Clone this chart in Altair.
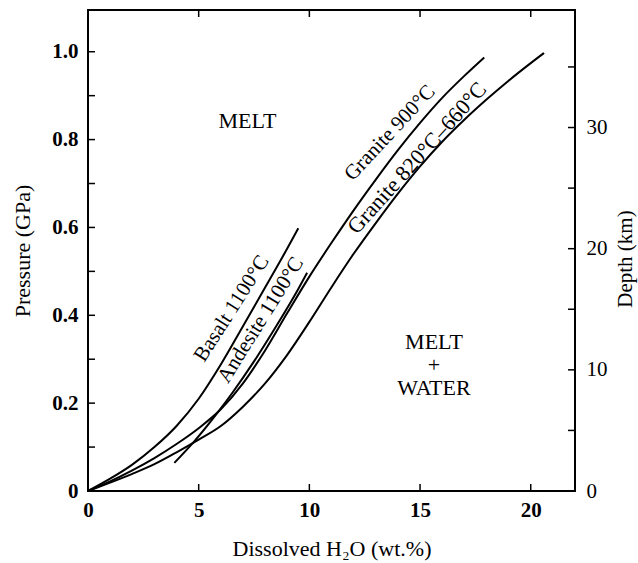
import altair as alt
import pandas as pd

# Solubility curves: dissolved H2O (wt.%) against pressure (GPa)
basalt_h2o = [0, 1, 2, 3, 4, 5, 6, 7, 8, 9, 9.5]
basalt_p = [0, 0.028, 0.06, 0.1, 0.148, 0.21, 0.288, 0.375, 0.463, 0.552, 0.598]

andesite_h2o = [3.9, 4.8, 5.8, 6.5, 7.5, 8.5, 9.5, 9.9]
andesite_p = [0.064, 0.113, 0.175, 0.222, 0.295, 0.375, 0.46, 0.497]

granite900_h2o = [0, 1, 2, 3, 4, 5, 6, 7, 8, 9, 10, 11, 12, 13, 14, 15, 16, 17, 17.9]
granite900_p = [0, 0.022, 0.047, 0.075, 0.107, 0.143, 0.186, 0.245, 0.32, 0.405, 0.488,
                0.565, 0.639, 0.709, 0.776, 0.838, 0.895, 0.945, 0.987]

granite820_h2o = [0, 1, 2, 3, 4, 5, 6, 7, 8, 9, 10, 11, 12, 13, 14, 15, 16, 17, 18, 19, 20, 20.6]
granite820_p = [0, 0.019, 0.039, 0.061, 0.088, 0.117, 0.148, 0.192, 0.245, 0.31, 0.385,
                0.464, 0.54, 0.61, 0.677, 0.739, 0.795, 0.845, 0.891, 0.934, 0.974, 0.997]

# Axis tick values
x_ticks = [0, 5, 10, 15, 20]
p_ticks = [0, 0.2, 0.4, 0.6, 0.8, 1.0]
p_minor = [0, 0.1, 0.2, 0.3, 0.4, 0.5, 0.6, 0.7, 0.8, 0.9, 1.0]
depth_ticks = [0, 10, 20, 30]
depth_minor = [0, 5, 10, 15, 20, 25, 30, 35]

W, H = 487, 481
X_DOM = [0, 22]
P_DOM = [0, 1.095]
D_DOM = [0, 39.7]
FONT = "Liberation Serif"

rows = []
for name, xs_, ps_ in [
    ("Basalt", basalt_h2o, basalt_p),
    ("Andesite", andesite_h2o, andesite_p),
    ("Granite 900", granite900_h2o, granite900_p),
    ("Granite 820", granite820_h2o, granite820_p),
]:
    for i, (x, p) in enumerate(zip(xs_, ps_)):
        rows.append({"rock": name, "h2o": x, "p": p, "order": i})
curves_df = pd.DataFrame(rows)

xs = alt.Scale(domain=X_DOM, nice=False, zero=False)
ps = alt.Scale(domain=P_DOM, nice=False, zero=False)
ds = alt.Scale(domain=D_DOM, nice=False, zero=False)

x_axis = alt.Axis(
    values=x_ticks, ticks=False, domain=False, grid=False, labelFlush=False,
    labelFont=FONT, labelFontSize=21, labelFontWeight="bold", labelColor="black",
    labelPadding=8, labelBaseline="top",
    title="Dissolved H₂O (wt.%)", titleFont=FONT, titleFontSize=22,
    titleFontWeight="normal", titleColor="black", titleY=57, titleBaseline="middle",
)
p_axis = alt.Axis(
    values=p_ticks, ticks=False, domain=False, grid=False, labelFlush=False,
    labelExpr="datum.value == 0 ? '0' : format(datum.value, '.1f')",
    labelFont=FONT, labelFontSize=21, labelFontWeight="bold", labelColor="black",
    labelPadding=10,
    title="Pressure (GPa)", titleFont=FONT, titleFontSize=22,
    titleFontWeight="normal", titleColor="black",
    titleAngle=270, titleX=-66, titleY=H / 2, titleAlign="center", titleBaseline="middle",
)
d_axis = alt.Axis(
    orient="right", values=depth_ticks, ticks=False, domain=False, grid=False,
    labelFlush=False,
    labelFont=FONT, labelFontSize=21, labelColor="black", labelPadding=11,
    title="Depth (km)", titleFont=FONT, titleFontSize=21,
    titleFontWeight="normal", titleColor="black",
    titleAngle=270, titleX=50, titleY=H / 2 + 8, titleAlign="center", titleBaseline="middle",
)

X = lambda f: alt.X(f, scale=xs, axis=x_axis)
Y = lambda f: alt.Y(f, scale=ps, axis=p_axis)

curves = alt.Chart(curves_df).mark_line(
    color="black", strokeWidth=2, interpolate="monotone"
).encode(
    x=X("h2o:Q"),
    y=Y("p:Q"),
    detail="rock:N",
    order="order:Q",
)

# Inward-pointing tick marks
left_ticks = alt.Chart(pd.DataFrame({"p": p_minor})).mark_rule(
    color="black", strokeWidth=1.5
).encode(y=Y("p:Q"), x=alt.value(0), x2=alt.value(7))

bottom_ticks = alt.Chart(pd.DataFrame({"h2o": x_ticks[1:]})).mark_rule(
    color="black", strokeWidth=1.5
).encode(x=X("h2o:Q"), y=alt.value(H), y2=alt.value(H - 7))

top_ticks = alt.Chart(pd.DataFrame({"h2o": x_ticks[1:]})).mark_rule(
    color="black", strokeWidth=1.5
).encode(x=X("h2o:Q"), y=alt.value(0), y2=alt.value(7))

# Region and curve labels
regions = pd.DataFrame({
    "h2o": [7.2, 15.63],
    "p": [0.842, 0.339],
    "txt": [["MELT"], ["MELT", "+", "WATER"]],
})
region_text = alt.Chart(regions).mark_text(
    font=FONT, fontSize=22, color="black", align="center", baseline="middle",
    lineHeight=23,
).encode(x=X("h2o:Q"), y=Y("p:Q"), text="txt")

curve_labels = [
    ("Basalt 1100°C", 6.5, 0.415, 302.5, 21),
    ("Andesite 1100°C", 7.81, 0.389, 302, 21),
    ("Granite 900°C", 13.64, 0.815, 313, 21),
    ("Granite 820°C–660°C", 14.86, 0.758, 312, 22),
]
label_layers = []
for txt, lx, ly, ang, fs in curve_labels:
    label_layers.append(
        alt.Chart(pd.DataFrame({"h2o": [lx], "p": [ly], "t": [txt]})).mark_text(
            font=FONT, fontSize=fs, color="black", align="center",
            baseline="middle", angle=ang,
        ).encode(x=X("h2o:Q"), y=Y("p:Q"), text="t:N")
    )

main = alt.layer(curves, left_ticks, bottom_ticks, top_ticks, region_text, *label_layers)

# Depth axis on the right with its own tick marks
depth_layer = alt.Chart(pd.DataFrame({"d": depth_minor})).mark_rule(
    color="black", strokeWidth=1.5
).encode(
    y=alt.Y("d:Q", scale=ds, axis=d_axis),
    x=alt.value(W - 7),
    x2=alt.value(W),
)

chart = alt.layer(main, depth_layer).resolve_scale(y="independent").properties(
    width=W,
    height=H,
    autosize=alt.AutoSizeParams(type="none"),
    padding={"left": 88, "top": 10, "right": 638 - 88 - W, "bottom": 563 - 10 - H},
    background="white",
).configure_view(stroke="black", strokeWidth=2)

chart.save("out.html", embed_options={"renderer": "svg", "actions": False})
